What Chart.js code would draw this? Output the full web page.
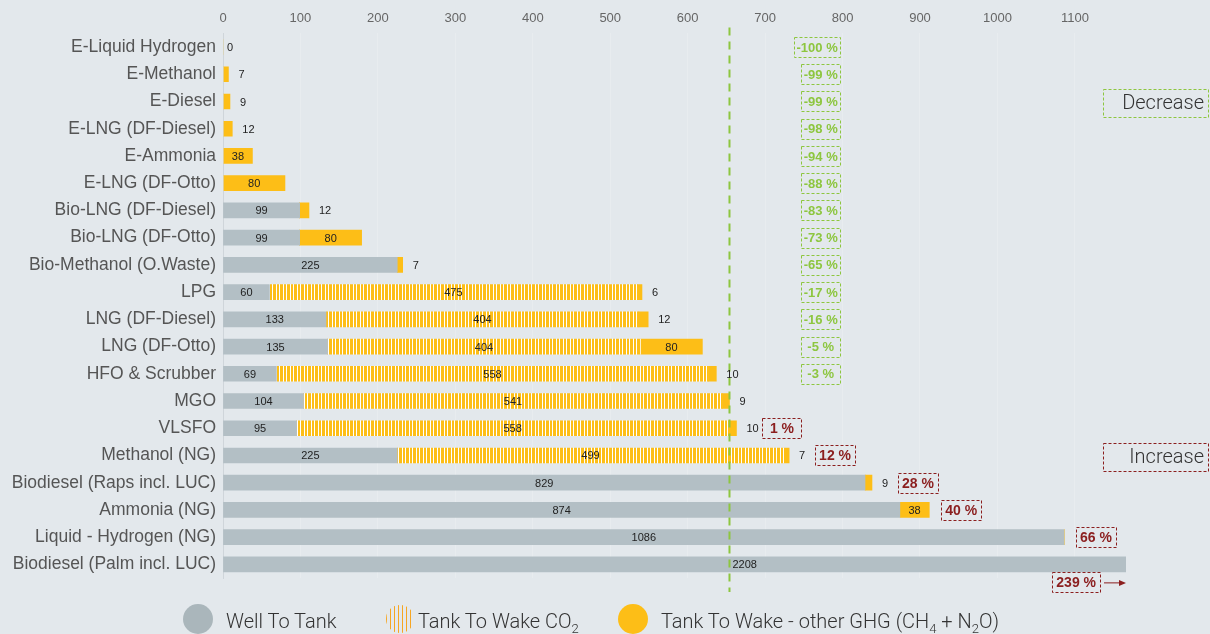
<!DOCTYPE html>
<html><head><meta charset="utf-8">
<script src="https://cdn.jsdelivr.net/npm/chart.js@4.4.0/dist/chart.umd.min.js"></script>
<style>
html,body{margin:0;padding:0;background:#e3e8ec;width:1210px;height:634px;overflow:hidden}
#wrap{position:relative;width:1210px;height:634px}
#c{position:absolute;left:0;top:0}
.lg{position:absolute;font-family:Roboto,sans-serif;font-weight:300;font-size:20px;color:#333;line-height:24px;white-space:nowrap}
.lg sub{font-size:13px;vertical-align:-5px;line-height:0}
.dot{position:absolute;border-radius:50%}
</style></head>
<body><div id="wrap">
<canvas id="c" width="1210" height="634"></canvas>
<div class="dot" style="left:183px;top:604px;width:30px;height:30px;background:#aab6bb"></div>
<div class="lg" style="left:226px;top:609px">Well To Tank</div>
<div class="dot" style="left:386px;top:605px;width:28px;height:28px;background:repeating-linear-gradient(90deg,#f6a623 0 1.2px,transparent 1.2px 4px)"></div>
<div class="lg" style="left:418px;top:609px">Tank To Wake CO<sub>2</sub></div>
<div class="dot" style="left:618px;top:604px;width:30px;height:30px;background:#fdbe17"></div>
<div class="lg" style="left:661px;top:609px">Tank To Wake - other GHG (CH<sub>4</sub> + N<sub>2</sub>O)</div>
</div>
<script>
const categories = ["E-Liquid Hydrogen","E-Methanol","E-Diesel","E-LNG (DF-Diesel)","E-Ammonia","E-LNG (DF-Otto)","Bio-LNG (DF-Diesel)","Bio-LNG (DF-Otto)","Bio-Methanol (O.Waste)","LPG","LNG (DF-Diesel)","LNG (DF-Otto)","HFO & Scrubber","MGO","VLSFO","Methanol (NG)","Biodiesel (Raps incl. LUC)","Ammonia (NG)","Liquid - Hydrogen (NG)","Biodiesel (Palm incl. LUC)"];
const wellToTank      = [0,0,0,0,0,0,99,99,225,60,133,135,69,104,95,225,829,874,1086,2208];
const tankToWakeCO2   = [0,0,0,0,0,0,0,0,0,475,404,404,558,541,558,499,0,0,0,0];
const tankToWakeOther = [0,7,9,12,38,80,12,80,7,6,12,80,10,9,10,7,9,38,0,0];
const changePct       = [-100,-99,-99,-98,-94,-88,-83,-73,-65,-17,-16,-5,-3,null,1,12,28,40,66,239];
const xTicks = [0,100,200,300,400,500,600,700,800,900,1000,1100];
const xMax = 1166;
const referenceIndex = 13;      // MGO is the reference (dashed line)
const decreaseAnchorValue = 797; // right edge of the decrease boxes, in axis units
const decreaseRow = 2, increaseRow = 15;

const GRAY = '#b3bfc5', YEL = '#fdbe17', GREEN = '#8dc63f', RED = '#8b1e1e';

function stripePattern(){
  const c = document.createElement('canvas'); c.width = 7; c.height = 4;
  const g = c.getContext('2d');
  g.fillStyle = '#ffffff'; g.fillRect(0,0,7,4);
  g.fillStyle = YEL; g.fillRect(0,0,3,4); g.fillRect(4,0,2,4);
  return document.getElementById('c').getContext('2d').createPattern(c,'repeat');
}

const totals = categories.map((_,i)=>wellToTank[i]+tankToWakeCO2[i]+tankToWakeOther[i]);

function dashedBox(ctx,x,y,w,h,color){
  ctx.save(); ctx.strokeStyle=color; ctx.lineWidth=1; ctx.setLineDash([3,2]);
  ctx.strokeRect(Math.round(x)+0.5,Math.round(y)+0.5,Math.round(w),Math.round(h)); ctx.restore();
}

const overlay = {
  id:'overlay',
  afterDatasetsDraw(chart){
    const ctx = chart.ctx, xs = chart.scales.x, area = chart.chartArea;
    const m0 = chart.getDatasetMeta(0).data, m1 = chart.getDatasetMeta(1).data, m2 = chart.getDatasetMeta(2).data;
    const refX = xs.getPixelForValue(totals[referenceIndex]);
    ctx.save(); ctx.strokeStyle=GREEN; ctx.lineWidth=2; ctx.setLineDash([8,6]);
    ctx.beginPath(); ctx.moveTo(refX, area.top-6); ctx.lineTo(refX, area.bottom+14); ctx.stroke(); ctx.restore();

    ctx.save();
    ctx.font = "11px 'Liberation Sans', Arial, sans-serif"; ctx.fillStyle='#222'; ctx.textBaseline='middle';
    categories.forEach((c,i)=>{
      const y = m0[i].y;
      const endPx = xs.getPixelForValue(totals[i]);
      const overflow = endPx > area.right;
      let outsideLabel = false;
      if (overflow){
        ctx.textAlign='left'; ctx.fillText(String(wellToTank[i]), refX+3, y+1);
      } else {
        if (wellToTank[i]>0){ ctx.textAlign='center'; ctx.fillText(String(wellToTank[i]), (m0[i].x+m0[i].base)/2, y+1); }
        if (tankToWakeCO2[i]>0){ ctx.textAlign='center'; ctx.fillText(String(tankToWakeCO2[i]), (m1[i].x+m1[i].base)/2, y+1); }
        if (tankToWakeOther[i]>=30){ ctx.textAlign='center'; ctx.fillText(String(tankToWakeOther[i]), (m2[i].x+m2[i].base)/2, y+1); }
        else if (tankToWakeOther[i]>0){ ctx.textAlign='left'; ctx.fillText(String(tankToWakeOther[i]), endPx+10, y+1); outsideLabel=true; }
        else if (totals[i]===0){ ctx.textAlign='left'; ctx.fillText('0', endPx+4, y+1); }
      }
      const p = changePct[i];
      if (p===null) return;
      const txt = p + ' %';
      if (p<0){
        ctx.font = "bold 13px 'Liberation Sans', Arial, sans-serif";
        const w = Math.max(39, ctx.measureText(txt).width+5);
        const right = xs.getPixelForValue(decreaseAnchorValue);
        dashedBox(ctx, right-w, y-10, w, 20, GREEN);
        ctx.fillStyle=GREEN; ctx.textAlign='center'; ctx.fillText(txt, right-w/2, y+1);
      } else {
        ctx.font = "bold 14px 'Liberation Sans', Arial, sans-serif";
        const w = Math.max(39, ctx.measureText(txt).width+8);
        let left, by = y;
        if (overflow){
          left = area.right-26-w; by = y+18;
          ctx.save(); ctx.strokeStyle=RED; ctx.fillStyle=RED; ctx.lineWidth=1;
          ctx.beginPath(); ctx.moveTo(area.right-22, by+0.5); ctx.lineTo(area.right-4, by+0.5); ctx.stroke();
          ctx.beginPath(); ctx.moveTo(area.right, by+0.5); ctx.lineTo(area.right-7, by-2.5); ctx.lineTo(area.right-7, by+3.5); ctx.closePath(); ctx.fill();
          ctx.restore();
        } else {
          left = endPx + (outsideLabel ? 26 : 12);
        }
        dashedBox(ctx, left, by-10, w, 20, RED);
        ctx.fillStyle=RED; ctx.textAlign='center'; ctx.fillText(txt, left+w/2, by+1);
      }
      ctx.font = "11px 'Liberation Sans', Arial, sans-serif"; ctx.fillStyle='#222';
    });
    [[decreaseRow,'Decrease',GREEN],[increaseRow,'Increase',RED]].forEach(([r,t,col])=>{
      const y = m0[r].y + 2;
      dashedBox(ctx, 1103, y-14, 105, 28, col);
      ctx.font = "300 20px Roboto, sans-serif"; ctx.fillStyle='#333'; ctx.textAlign='right'; ctx.textBaseline='middle';
      ctx.fillText(t, 1204, y+1);
    });
    ctx.restore();
  }
};

new Chart(document.getElementById('c'), {
  type:'bar',
  data:{
    labels: categories,
    datasets:[
      {label:'Well To Tank', data: wellToTank, backgroundColor: GRAY, barThickness:15},
      {label:'Tank To Wake CO2', data: tankToWakeCO2, backgroundColor: stripePattern(), barThickness:15},
      {label:'Tank To Wake - other GHG', data: tankToWakeOther, backgroundColor: YEL, barThickness:15}
    ]
  },
  options:{
    indexAxis:'y', responsive:false, animation:false, devicePixelRatio:1,
    layout:{padding:{left:0,top:0,right:84,bottom:56}},
    plugins:{legend:{display:false}, tooltip:{enabled:false}},
    scales:{
      x:{type:'linear', position:'top', stacked:true, min:0, max:xMax,
         afterBuildTicks(s){ s.ticks = xTicks.map(v=>({value:v})); },
         afterFit(s){ s.height = 33.4; },
         grid:{color:'rgba(255,255,255,0.2)', drawTicks:false},
         border:{display:false},
         ticks:{color:'#666', font:{family:"'Liberation Sans', Arial, sans-serif", size:13}, padding:7,
                callback:(v)=>String(v)}},
      y:{type:'category', stacked:true,
         afterFit(s){ s.width = 223; },
         grid:{display:false, drawTicks:false},
         border:{display:true, color:'#cfd5da'},
         ticks:{color:'#555', autoSkip:false, font:{family:"'Liberation Sans', Arial, sans-serif", size:17.5}, padding:7}}
    }
  },
  plugins:[overlay]
});
</script>
</body></html>
